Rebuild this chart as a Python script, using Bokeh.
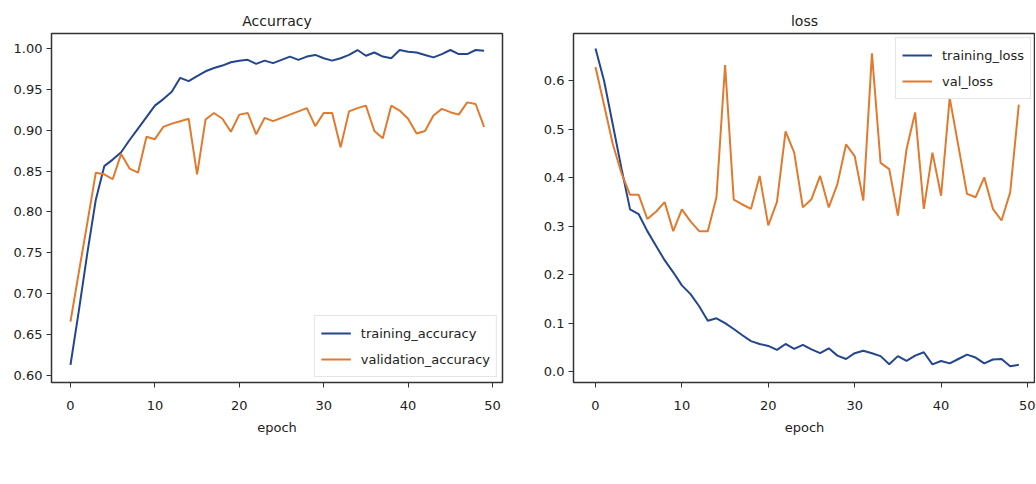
from bokeh.plotting import figure
from bokeh.layouts import row, column
from bokeh.models import FixedTicker, NumeralTickFormatter, Legend, LegendItem, Range1d
from bokeh.core.properties import value
from bokeh.embed import file_html
from bokeh.resources import INLINE

epochs = list(range(50))

training_accuracy = [0.613, 0.68, 0.75, 0.815, 0.856, 0.864, 0.873, 0.888, 0.902, 0.916,
                     0.930, 0.938, 0.947, 0.964, 0.960, 0.966, 0.972, 0.976, 0.979, 0.983,
                     0.985, 0.986, 0.981, 0.985, 0.982, 0.986, 0.990, 0.986, 0.990, 0.992,
                     0.988, 0.985, 0.988, 0.992, 0.998, 0.991, 0.995, 0.990, 0.988, 0.998,
                     0.996, 0.995, 0.992, 0.989, 0.993, 0.998, 0.993, 0.993, 0.998, 0.997]
validation_accuracy = [0.666, 0.727, 0.787, 0.848, 0.846, 0.840, 0.871, 0.853, 0.848, 0.892,
                       0.889, 0.904, 0.908, 0.911, 0.914, 0.846, 0.913, 0.921, 0.914, 0.898,
                       0.919, 0.921, 0.895, 0.915, 0.911, 0.915, 0.919, 0.923, 0.927, 0.905,
                       0.921, 0.921, 0.879, 0.923, 0.927, 0.930, 0.899, 0.890, 0.930, 0.924,
                       0.914, 0.896, 0.899, 0.918, 0.926, 0.922, 0.919, 0.934, 0.932, 0.904]
training_loss = [0.667, 0.60, 0.51, 0.42, 0.335, 0.325, 0.29, 0.26, 0.23, 0.205,
                 0.178, 0.16, 0.135, 0.105, 0.11, 0.10, 0.088, 0.075, 0.063, 0.057,
                 0.053, 0.045, 0.057, 0.047, 0.055, 0.046, 0.038, 0.048, 0.033, 0.026,
                 0.038, 0.043, 0.038, 0.032, 0.015, 0.032, 0.022, 0.033, 0.040, 0.015,
                 0.022, 0.017, 0.026, 0.035, 0.029, 0.017, 0.025, 0.026, 0.011, 0.014]
val_loss = [0.629, 0.55, 0.47, 0.41, 0.365, 0.365, 0.315, 0.33, 0.35, 0.29,
            0.335, 0.31, 0.29, 0.29, 0.36, 0.633, 0.355, 0.345, 0.336, 0.404,
            0.302, 0.350, 0.496, 0.452, 0.339, 0.356, 0.404, 0.339, 0.387, 0.469,
            0.445, 0.353, 0.657, 0.431, 0.418, 0.322, 0.459, 0.535, 0.336, 0.452,
            0.363, 0.565, 0.466, 0.367, 0.360, 0.401, 0.336, 0.312, 0.370, 0.551]

x_ticks = [0, 10, 20, 30, 40, 50]
acc_ticks = [0.60, 0.65, 0.70, 0.75, 0.80, 0.85, 0.90, 0.95, 1.00]
loss_ticks = [0.0, 0.1, 0.2, 0.3, 0.4, 0.5, 0.6]
captions = ["(a)", "(b)"]

BLUE = "#23468f"
ORANGE = "#e07a2e"
FONT = "DejaVu Sans"


def style(p, yticks, yfmt):
    p.xgrid.visible = False
    p.ygrid.visible = False
    p.outline_line_color = "#333333"
    p.outline_line_width = 1.5
    p.background_fill_color = "white"
    p.border_fill_color = "white"
    for ax in (p.xaxis, p.yaxis):
        ax.axis_line_color = None
        ax.major_tick_line_color = "#333333"
        ax.major_tick_out = 5
        ax.major_tick_in = 0
        ax.minor_tick_line_color = None
        ax.major_label_text_font = FONT
        ax.major_label_text_font_size = "13px"
        ax.major_label_text_color = "#222222"
    p.xaxis.ticker = FixedTicker(ticks=x_ticks)
    p.yaxis.ticker = FixedTicker(ticks=yticks)
    p.yaxis.formatter = NumeralTickFormatter(format=yfmt)
    p.yaxis.major_label_standoff = 4
    p.xaxis.major_label_standoff = 13
    p.xaxis.axis_label = "epoch"
    p.xaxis.axis_label_text_font = FONT
    p.xaxis.axis_label_text_font_size = "13px"
    p.xaxis.axis_label_text_font_style = "normal"
    p.xaxis.axis_label_text_color = "#222222"
    p.xaxis.axis_label_standoff = 7
    p.title.text_font = FONT
    p.title.text_font_size = "14px"
    p.title.text_font_style = "normal"
    p.title.text_color = "#222222"
    p.title.align = "center"
    p.title.standoff = 9


def make_legend(items, location, margin):
    lg = Legend(items=items, location=location, margin=margin, padding=6,
                glyph_width=30, glyph_height=22, spacing=4, label_standoff=10,
                label_text_font=FONT, label_text_font_size="13px",
                label_text_color="#222222", border_line_color="#cccccc",
                border_line_width=1, background_fill_color="white",
                background_fill_alpha=1.0)
    return lg


def caption_fig(width, xr, mbl, mbr, text, cx):
    c = figure(width=width, height=30, output_backend="svg", toolbar_location=None,
               x_range=Range1d(*xr), y_range=Range1d(0, 1),
               x_axis_location=None, y_axis_location=None,
               min_border=0, min_border_left=mbl, min_border_right=mbr)
    c.grid.visible = False
    c.outline_line_color = None
    c.background_fill_alpha = 0
    c.border_fill_alpha = 0
    c.text(x=[cx], y=[0.4], text=[text], text_align="center", text_baseline="middle",
           text_font=value("Liberation Serif"), text_font_size="17px", text_color="#222222")
    return c


LEFT_XR = (-2.25, 51.18)
RIGHT_XR = (-2.546, 50.93)

# Left: accuracy
p1 = figure(width=522, height=478, output_backend="svg", toolbar_location=None,
            title="Accurracy", x_range=Range1d(*LEFT_XR), y_range=Range1d(0.5915, 1.0182),
            min_border_left=51, min_border_right=20, min_border_top=30, min_border_bottom=96)
style(p1, acc_ticks, "0.00")
r1 = p1.line(epochs, training_accuracy, line_color=BLUE, line_width=2)
r2 = p1.line(epochs, validation_accuracy, line_color=ORANGE, line_width=2)
p1.add_layout(make_legend([LegendItem(label="training_accuracy", renderers=[r1]),
                           LegendItem(label="validation_accuracy", renderers=[r2])],
                          "bottom_right", 5))

# Right: loss
p2 = figure(width=513, height=478, output_backend="svg", toolbar_location=None,
            title="loss", x_range=Range1d(*RIGHT_XR), y_range=Range1d(-0.0225, 0.698),
            min_border_left=51, min_border_right=0, min_border_top=33, min_border_bottom=93)
style(p2, loss_ticks, "0.0")
r3 = p2.line(epochs, training_loss, line_color=BLUE, line_width=2)
r4 = p2.line(epochs, val_loss, line_color=ORANGE, line_width=2)
p2.add_layout(make_legend([LegendItem(label="training_loss", renderers=[r3]),
                           LegendItem(label="val_loss", renderers=[r4])],
                          "top_right", 4))

c1 = caption_fig(522, LEFT_XR, 51, 20, captions[0], 25.1)
c2 = caption_fig(513, RIGHT_XR, 51, 0, captions[1], 24.4)

layout = column(row(p1, p2), row(c1, c2))
open("out.html", "w").write(file_html(layout, INLINE))
